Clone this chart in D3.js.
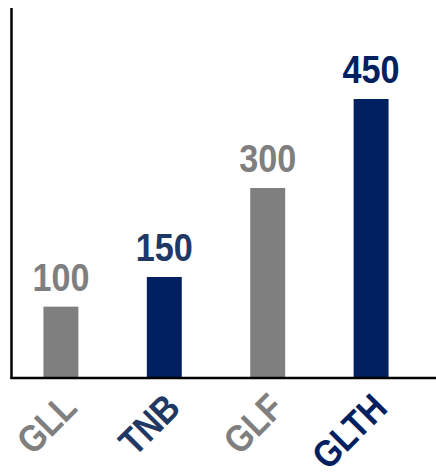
<!DOCTYPE html>
<html>
<head>
<meta charset="utf-8">
<script src="https://cdn.jsdelivr.net/npm/d3@7"></script>
<style>
  html, body { margin: 0; padding: 0; background: #ffffff; }
  svg { display: block; }
</style>
</head>
<body>
<svg id="chart" width="436" height="475"></svg>
<script>
// Data
const categories = ["GLL", "TNB", "GLF", "GLTH"];
const values = [100, 150, 300, 450];
const barColors = ["#7f7f7f", "#002060", "#7f7f7f", "#002060"];
const textColors = ["#7f7f7f", "#1f3864", "#7f7f7f", "#002060"];

const svg = d3.select("#chart");
const font = "'Liberation Sans', Arial, sans-serif";
const baseY = 378;
const axisX = 11.5;

const x = d3.scaleBand()
  .domain(categories)
  .range([12, 420])
  .paddingInner(0.662)
  .paddingOuter(0.304);

const y = d3.scaleLinear()
  .domain([0, 450])
  .range([366, 99]);

const data = categories.map((c, i) => ({ c, v: values[i], bar: barColors[i], txt: textColors[i] }));

// Bars
svg.append("g").selectAll("rect")
  .data(data)
  .join("rect")
  .attr("x", d => x(d.c))
  .attr("width", x.bandwidth())
  .attr("y", d => y(d.v))
  .attr("height", d => baseY - y(d.v))
  .attr("fill", d => d.bar);

// Value labels
svg.append("g").selectAll("text")
  .data(data)
  .join("text")
  .attr("transform", d => `translate(${x(d.c) + x.bandwidth() / 2},${y(d.v) - 16}) scale(0.9,1)`)
  .attr("text-anchor", "middle")
  .attr("font-family", font)
  .attr("font-weight", "bold")
  .attr("font-size", 38)
  .attr("fill", d => d.txt)
  .text(d => d.v);

// Axes
const xAxis = d3.axisBottom(x).tickSize(0).tickFormat("");
const gx = svg.append("g").attr("transform", `translate(0,${baseY})`).call(xAxis);
gx.select(".domain").attr("d", `M${axisX - 1},0H436`).attr("stroke", "#000").attr("stroke-width", 2.5);

const yAxis = d3.axisLeft(y).tickSize(0).tickFormat("").tickValues([]);
const gy = svg.append("g").attr("transform", `translate(${axisX},0)`).call(yAxis);
gy.select(".domain").attr("d", `M0,8V${baseY + 1}`).attr("stroke", "#000").attr("stroke-width", 2.5);

// Category labels (rotated)
svg.append("g").selectAll("text")
  .data(data)
  .join("text")
  .attr("transform", d => `translate(${x(d.c) + x.bandwidth() / 2 + 18},410) rotate(-45) scale(0.86,1)`)
  .attr("text-anchor", "end")
  .attr("font-family", font)
  .attr("font-weight", "bold")
  .attr("font-size", 38)
  .attr("fill", d => d.txt)
  .text(d => d.c);
</script>
</body>
</html>
